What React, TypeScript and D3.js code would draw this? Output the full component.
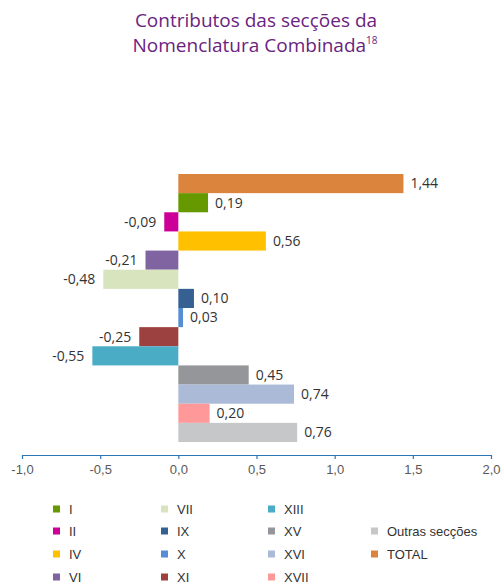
import React, { useEffect, useRef } from 'react'
import * as d3 from 'd3'

const categories = ['TOTAL', 'I', 'II', 'IV', 'VI', 'VII', 'IX', 'X', 'XI', 'XIII', 'XV', 'XVI', 'XVII', 'Outras secções']
const values = [1.44, 0.19, -0.09, 0.56, -0.21, -0.48, 0.1, 0.03, -0.25, -0.55, 0.45, 0.74, 0.2, 0.76]
const colors = [
  '#DB843D', '#669900', '#CC0099', '#FFC000', '#8064A2', '#D7E4BD', '#376092',
  '#558ED5', '#9C4040', '#4BACC6', '#95969A', '#AABAD7', '#FF9999', '#C6C7C9',
]
const ticks = [-1, -0.5, 0, 0.5, 1, 1.5, 2]

// legend layout: column, row for each category
const legendPos: Record<string, [number, number]> = {
  I: [0, 0], II: [0, 1], IV: [0, 2], VI: [0, 3],
  VII: [1, 0], IX: [1, 1], X: [1, 2], XI: [1, 3],
  XIII: [2, 0], XV: [2, 1], XVI: [2, 2], XVII: [2, 3],
  'Outras secções': [3, 1], TOTAL: [3, 2],
}

const W = 501
const H = 585

const pt = d3.formatLocale({ decimal: ',', thousands: '.', grouping: [3], currency: ['', '€'], minus: '-' })
const fmt2 = pt.format('.2f')
const fmt1 = pt.format('.1f')

export default function App() {
  const ref = useRef<SVGSVGElement>(null)

  useEffect(() => {
    const svg = d3.select(ref.current)
    svg.selectAll('*').remove()

    const x = d3.scaleLinear().domain([-1, 2]).range([22, 491])
    const y = d3.scaleBand().domain(categories).range([174, 442]).padding(0)

    // title
    const title = svg
      .append('text')
      .attr('text-anchor', 'middle')
      .attr('font-family', 'Open Sans, sans-serif')
      .attr('font-size', 19)
      .attr('fill', '#6B2380')
    title.append('tspan').attr('x', 256).attr('y', 27).text('Contributos das secções da')
    title.append('tspan').attr('x', 255).attr('y', 52).text('Nomenclatura Combinada')
    title.append('tspan').attr('font-size', 10).attr('dy', -8).text('18')

    const data = categories.map((c, i) => ({ name: c, value: values[i], color: colors[i] }))

    svg
      .append('g')
      .selectAll('rect')
      .data(data)
      .join('rect')
      .attr('x', (d) => x(Math.min(0, d.value)))
      .attr('y', (d) => y(d.name)!)
      .attr('width', (d) => Math.abs(x(d.value) - x(0)))
      .attr('height', y.bandwidth())
      .attr('fill', (d) => d.color)

    svg
      .append('g')
      .attr('font-family', 'Open Sans, sans-serif')
      .attr('font-size', 14)
      .attr('fill', '#333')
      .selectAll('text')
      .data(data)
      .join('text')
      .attr('x', (d) => (d.value >= 0 ? x(d.value) + 7 : x(d.value) - 8))
      .attr('y', (d) => y(d.name)! + y.bandwidth() / 2)
      .attr('dy', '0.35em')
      .attr('text-anchor', (d) => (d.value >= 0 ? 'start' : 'end'))
      .text((d) => fmt2(d.value))

    // axis
    const axis = svg
      .append('g')
      .attr('transform', 'translate(0,455)')
      .call(d3.axisBottom(x).tickValues(ticks).tickSize(4).tickSizeOuter(0).tickPadding(6).tickFormat((d) => fmt1(d as number)))
    axis.select('.domain').attr('stroke', '#2E75B6').attr('stroke-width', 1.2)
    axis.selectAll('.tick line').attr('stroke', '#2E75B6').attr('stroke-width', 1.2)
    axis
      .selectAll('.tick text')
      .attr('fill', '#595959')
      .attr('font-family', 'Liberation Sans, Arial, sans-serif')
      .attr('font-size', 13)

    // legend
    const colX = [53, 161, 268, 371]
    const rowY = [509, 531, 554, 577]
    const lg = svg
      .append('g')
      .attr('font-family', 'Liberation Sans, Arial, sans-serif')
      .attr('font-size', 13)
      .attr('fill', '#333')
      .selectAll('g')
      .data(data)
      .join('g')
      .attr('transform', (d) => {
        const [c, r] = legendPos[d.name]
        return `translate(${colX[c]},${rowY[r]})`
      })
    lg.append('rect').attr('x', 0).attr('y', -3.5).attr('width', 7).attr('height', 7).attr('fill', (d) => d.color)
    lg.append('text')
      .attr('x', 16)
      .attr('y', 0)
      .attr('dy', '0.35em')
      .text((d) => d.name)
  }, [])

  return <svg ref={ref} width={W} height={H} style={{ position: 'absolute', left: 0, top: 0, background: '#fff' }} />
}
